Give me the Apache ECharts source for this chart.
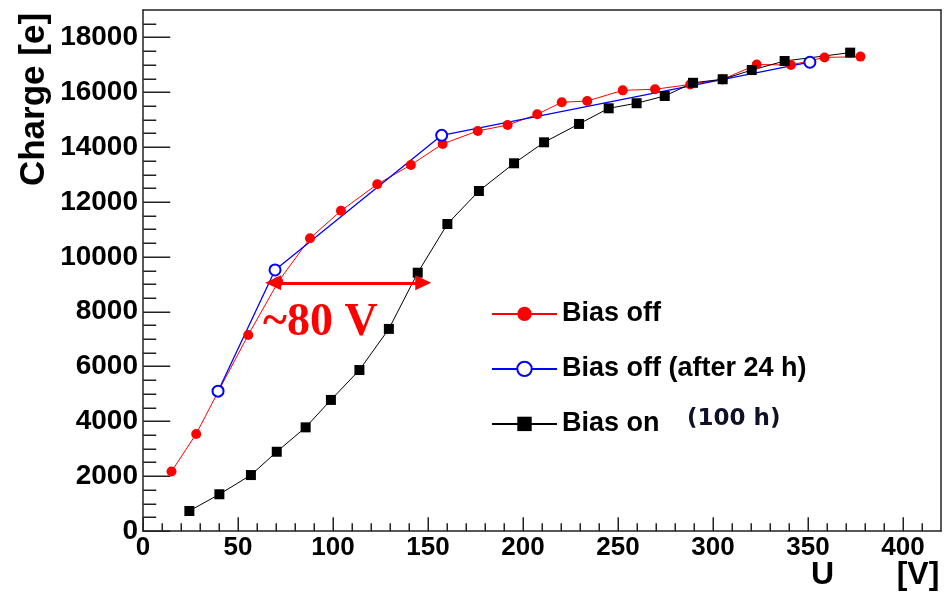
<!DOCTYPE html>
<html><head><meta charset="utf-8">
<script src="https://cdn.jsdelivr.net/npm/echarts@6/dist/echarts.min.js"></script>
<style>html,body{margin:0;padding:0;background:#fff}#c{width:948px;height:595px}</style>
</head><body><div id="c"></div>
<script>
// ---- data ----
const seriesNames = ['Bias off', 'Bias off (after 24 h)', 'Bias on'];

const biasOffU = [15, 28, 40, 55.4, 71.2, 87.9, 104.2, 123.3, 141, 157.7, 176.2, 191.9, 207.5, 220.4, 233.8, 252.5, 269.5, 288, 305, 323, 341, 358.7, 377.6];
const biasOffQ = [2170, 3540, 5140, 7150, 9090, 10675, 11680, 12645, 13350, 14115, 14590, 14805, 15195, 15635, 15680, 16070, 16110, 16285, 16470, 17010, 16995, 17270, 17300];

const after24U = [39.5, 69.5, 157.2, 351];
const after24Q = [5100, 9520, 14430, 17095];

const biasOnU = [24.4, 40.2, 56.8, 70.4, 85.6, 98.9, 113.9, 129.4, 144.6, 160.2, 176.8, 195.3, 211.1, 229.5, 245.1, 259.8, 274.6, 289.5, 305.1, 320.4, 337.7, 372.2];
const biasOnQ = [730, 1340, 2040, 2890, 3780, 4780, 5870, 7370, 9420, 11195, 12400, 13410, 14175, 14845, 15415, 15600, 15865, 16345, 16475, 16810, 17140, 17445];

// annotation: ~80 V shift arrow
const arrowU = [68.5, 147.5];
const arrowQ = 9050;
const arrowText = '~80 V';
const extraLegendText = '(100 h)';

// axes: ranges, major / minor tick steps
const xRange = [0, 420], xMajor = 50, xMinor = 10;
const yRange = [0, 19000], yMajor = 2000, yMinor = 500;

// ---- chart ----
const pair = (xs, ys) => xs.map((x, i) => [x, ys[i]]);
const plain = v => String(v);
const FONT = '"Liberation Sans", Arial, sans-serif';
const FRAME = '#222';

// tick values (axis decoration), placed through the axis scale
function tickList(range, minor, major, lenMajor, lenMinor) {
  const out = [];
  for (let v = range[0]; v < range[1] - 1e-9; v += minor) {
    const isMajor = Math.abs(v / major - Math.round(v / major)) < 1e-9;
    out.push([v, isMajor ? lenMajor : lenMinor]);
  }
  return out;
}
const xTicks = tickList(xRange, xMinor, xMajor, 14, 8);
const yTicks = tickList(yRange, yMinor, yMajor, 27, 13);

const chart = echarts.init(document.getElementById('c'));

const frameAxis = (pos, range) => ({
  type: 'value', min: range[0], max: range[1], position: pos, offset: 0,
  axisLine: {show: true, onZero: false, lineStyle: {color: FRAME, width: 1.5}},
  axisTick: {show: false}, axisLabel: {show: false}, splitLine: {show: false}
});

const tickSeries = (ticks, isX) => ({
  type: 'custom', silent: true, clip: false, xAxisIndex: 0, yAxisIndex: 0,
  tooltip: {show: false}, legendHoverLink: false,
  encode: isX ? {x: 0} : {y: 0},
  data: ticks,
  renderItem: (params, api) => {
    const v = api.value(0), len = api.value(1);
    const p = isX ? api.coord([v, yRange[0]]) : api.coord([xRange[0], v]);
    const x = Math.round(p[0]) + 0.25, y = Math.round(p[1]) + 0.25;
    return {
      type: 'line',
      shape: isX ? {x1: x, y1: y, x2: x, y2: y - len} : {x1: x, y1: y, x2: x + len, y2: y},
      style: {stroke: FRAME, lineWidth: 1.5}
    };
  }
});

const option = {
  animation: false,
  grid: {left: 143, right: 7, top: 10, bottom: 64},
  xAxis: [
    {type: 'value', min: xRange[0], max: xRange[1], interval: xMajor, position: 'bottom',
     axisLine: {show: true, onZero: false, lineStyle: {color: FRAME, width: 1.5}},
     axisTick: {show: false},
     axisLabel: {show: true, margin: 4, fontSize: 26, fontWeight: 'bold', fontFamily: FONT, color: '#000', showMaxLabel: false, formatter: plain},
     splitLine: {show: false}},
    frameAxis('top', xRange)
  ],
  yAxis: [
    {type: 'value', min: yRange[0], max: yRange[1], interval: yMajor, position: 'left',
     axisLine: {show: true, onZero: false, lineStyle: {color: FRAME, width: 1.5}},
     axisTick: {show: false},
     axisLabel: {show: true, margin: 5, fontSize: 28, fontWeight: 'bold', fontFamily: FONT, color: '#000', showMaxLabel: false, formatter: plain},
     splitLine: {show: false}},
    frameAxis('right', yRange)
  ],
  legend: {
    orient: 'vertical', left: 491, top: 300.4, padding: 0,
    itemWidth: 65, itemHeight: 18, itemGap: 28,
    selectedMode: false,
    lineStyle: {width: 2},
    textStyle: {fontSize: 27, fontWeight: 'bold', fontFamily: FONT, color: '#000'},
    data: seriesNames
  },
  series: [
    tickSeries(xTicks, true),
    tickSeries(yTicks, false),
    {name: seriesNames[0], type: 'line', xAxisIndex: 0, yAxisIndex: 0,
     data: pair(biasOffU, biasOffQ), symbol: 'circle', symbolSize: 10,
     itemStyle: {color: '#ff0000'}, lineStyle: {color: '#ff0000', width: 1}},
    {name: seriesNames[1], type: 'line', xAxisIndex: 0, yAxisIndex: 0,
     data: pair(after24U, after24Q), symbol: 'emptyCircle', symbolSize: 11,
     itemStyle: {color: '#0000ff', borderWidth: 1}, lineStyle: {color: '#0000ff', width: 1.3}},
    {name: seriesNames[2], type: 'line', xAxisIndex: 0, yAxisIndex: 0,
     data: pair(biasOnU, biasOnQ), symbol: 'rect', symbolSize: 10,
     itemStyle: {color: '#000'}, lineStyle: {color: '#000', width: 1},
     markLine: {
       silent: true, symbol: ['triangle', 'triangle'], symbolSize: [15, 16],
       label: {show: false}, emphasis: {disabled: true},
       lineStyle: {color: '#ff0000', width: 3, type: 'solid'},
       data: [[{coord: [arrowU[0], arrowQ]}, {coord: [arrowU[1], arrowQ]}]]
     }}
  ],
  graphic: [
    {type: 'text', x: 34.5, y: 99.5, rotation: Math.PI / 2,
     style: {text: 'Charge [e]', fontSize: 35, fontWeight: 'bold', fontFamily: FONT, fill: '#000', align: 'center', verticalAlign: 'middle'}},
    {type: 'text', x: 822.5, y: 575,
     style: {text: 'U', fontSize: 32, fontWeight: 'bold', fontFamily: FONT, fill: '#000', align: 'center', verticalAlign: 'middle'}},
    {type: 'text', x: 918, y: 575,
     style: {text: '[V]', fontSize: 32, fontWeight: 'bold', fontFamily: FONT, fill: '#000', align: 'center', verticalAlign: 'middle'}},
    {type: 'text', x: 263, y: 323,
     style: {text: arrowText, fontSize: 46, fontWeight: 'bold', fontFamily: '"Liberation Serif", "Times New Roman", serif', fill: '#ff0000', align: 'left', verticalAlign: 'middle'}},
    {type: 'text', x: 687, y: 419,
     style: {text: extraLegendText, fontSize: 23, fontWeight: 'bold', fontFamily: '"DejaVu Sans", Verdana, sans-serif', fill: '#10102a', align: 'left', verticalAlign: 'middle'}}
  ]
};
chart.setOption(option);
</script>
</body></html>
